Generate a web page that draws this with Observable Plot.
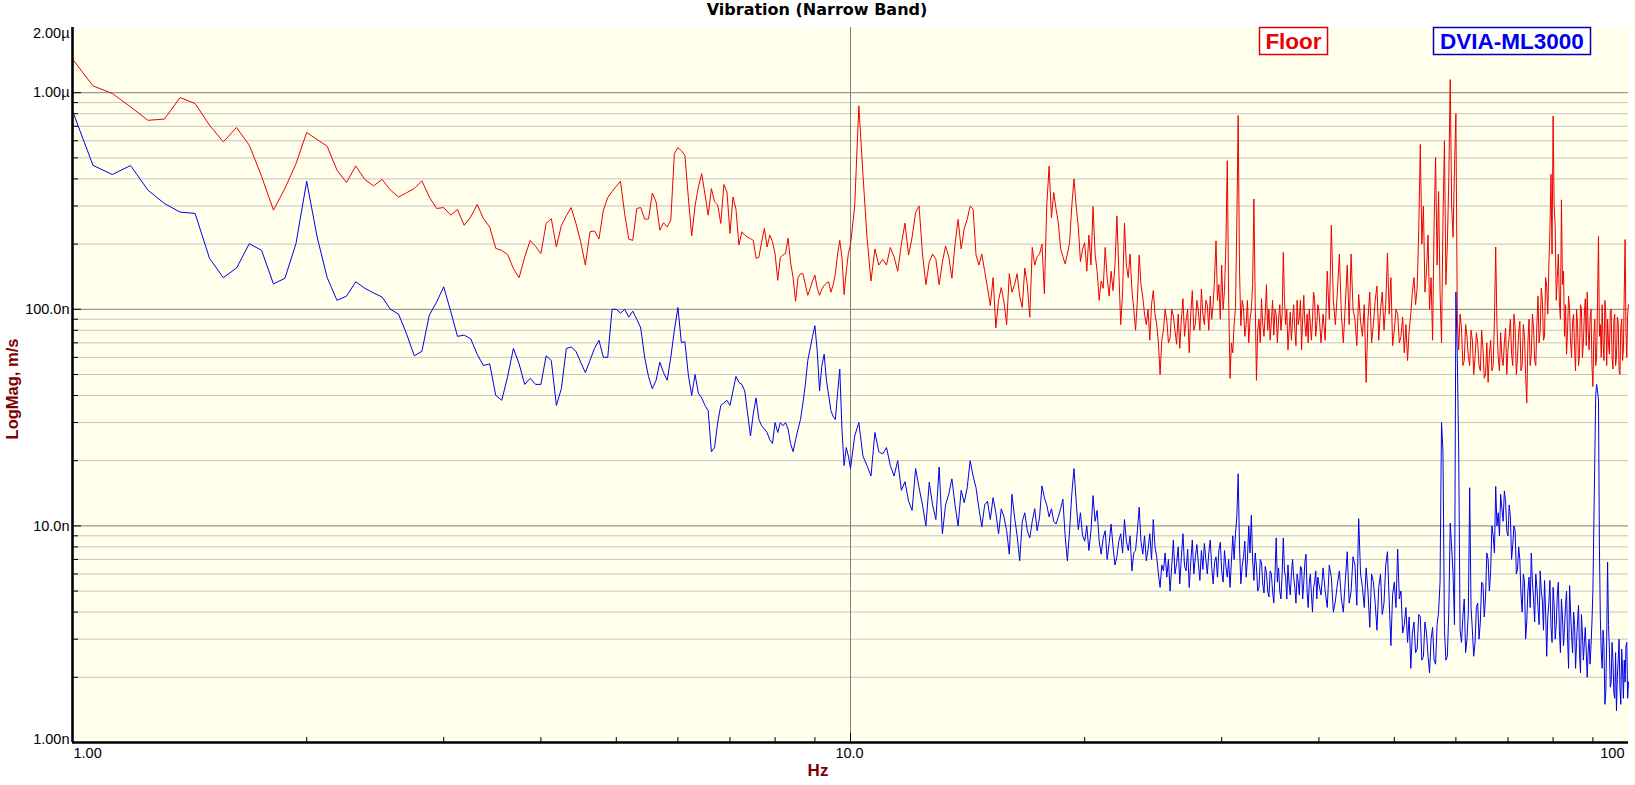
<!DOCTYPE html>
<html>
<head>
<meta charset="utf-8">
<script src="https://cdn.jsdelivr.net/npm/d3@7"></script>
<script src="https://cdn.jsdelivr.net/npm/@observablehq/plot@0.6"></script>
<style>
html, body { margin: 0; padding: 0; background: #ffffff; overflow: hidden; }
svg { display: block; }
</style>
</head>
<body>
<div id="chart"></div>
<script>
// ---------- DATA (frequency in Hz, magnitude in nm/s -> converted to m/s) ----------
const freqLow = [
  1, 1.0625, 1.125, 1.1875, 1.25, 1.3125, 1.375, 1.4375, 1.5, 1.5625, 1.625, 1.6875, 1.75, 1.8125, 1.875, 1.9375,
  2, 2.0625, 2.125, 2.1875, 2.25, 2.3125, 2.375, 2.4375, 2.5, 2.5625, 2.625, 2.6875, 2.75, 2.8125, 2.875, 2.9375,
  3, 3.0625, 3.125, 3.1875, 3.25, 3.3125, 3.375, 3.4375, 3.5, 3.5625, 3.625, 3.6875, 3.75, 3.8125, 3.875, 3.9375,
  4, 4.0625, 4.125, 4.1875, 4.25, 4.3125, 4.375, 4.4375, 4.5, 4.5625, 4.625, 4.6875, 4.75, 4.8125, 4.875, 4.9375,
  5, 5.0625, 5.125, 5.1875, 5.25, 5.3125, 5.375, 5.4375, 5.5, 5.5625, 5.625, 5.6875, 5.75, 5.8125, 5.875, 5.9375,
  6, 6.0625, 6.125, 6.1875, 6.25, 6.3125, 6.375, 6.4375, 6.5, 6.5625, 6.625, 6.6875, 6.75, 6.8125, 6.875, 6.9375,
  7, 7.0625, 7.125, 7.1875, 7.25, 7.3125, 7.375, 7.4375, 7.5, 7.5625, 7.625, 7.6875, 7.75, 7.8125, 7.875, 7.9375,
  8, 8.0625, 8.125, 8.1875, 8.25, 8.3125, 8.375, 8.4375, 8.5, 8.5625, 8.625, 8.6875, 8.75, 8.8125, 8.875, 8.9375,
  9, 9.0625, 9.125, 9.1875, 9.25, 9.3125, 9.375, 9.4375, 9.5, 9.5625, 9.625, 9.6875, 9.75, 9.8125, 9.875, 9.9375,
  10
];
const floorLow = [
  1430, 1075, 992, 860, 746, 755, 950, 891, 708, 593, 691, 572, 411, 287, 361, 470,
  655, 608, 566, 439, 385, 459, 398, 371, 398, 355, 330, 345, 361, 392, 330, 292,
  295, 272, 289, 244, 267, 305, 262, 240, 191, 187, 179, 154, 140, 174, 208, 195,
  181, 249, 262, 194, 244, 270, 295, 249, 205, 160, 228, 230, 211, 287, 328, 350,
  370, 390, 277, 211, 208, 292, 295, 261, 261, 344, 313, 232, 251, 240, 258, 524,
  558, 540, 514, 330, 218, 300, 367, 423, 340, 272, 361, 313, 303, 249, 377, 348,
  224, 330, 290, 198, 228, 220, 215, 212, 208, 172, 174, 205, 236, 194, 220, 205,
  180, 136, 174, 178, 181, 213, 165, 140, 109, 140, 146, 146, 130, 116, 125, 135,
  144, 125, 116, 124, 129, 132, 134, 120, 130, 146, 180, 208, 174, 117, 150, 181,
  199
];
const dviaLow = [
  824, 462, 419, 461, 355, 308, 281, 277, 172, 140, 155, 201, 187, 131, 139, 201,
  390, 216, 140, 110, 115, 134, 125, 119, 114, 100, 95, 77, 61, 64, 94, 108,
  127, 98, 75, 76, 73, 62, 55, 56, 40, 38, 49, 66, 56, 45, 48, 45,
  45, 61, 58, 36, 43, 66, 67, 64, 57, 51, 58, 66, 72, 60, 60, 100,
  100, 96, 100, 92, 98, 90, 82, 60, 49, 43, 47, 57, 51, 47, 60, 80,
  102, 70, 71, 50, 40, 50, 41, 39, 36, 34, 22, 23, 30, 36, 37, 38,
  36, 42, 49, 46, 45, 42, 33, 26, 33, 39, 31, 29, 28, 27, 25, 24,
  30, 27, 30, 29, 30, 28, 24, 22, 25, 28, 31, 37, 45, 58, 66, 75,
  84, 64, 42, 55, 62, 47, 40, 34, 32, 31, 41, 53, 28, 19, 23, 21,
  18.4
];

const freqMid = [
  10.125, 10.25, 10.375, 10.5, 10.625, 10.75, 10.875, 11,
  11.125, 11.25, 11.375, 11.5, 11.625, 11.75, 11.875, 12,
  12.125, 12.25, 12.375, 12.5, 12.625, 12.75, 12.875, 13,
  13.125, 13.25, 13.375, 13.5, 13.625, 13.75, 13.875, 14,
  14.125, 14.25, 14.375, 14.5, 14.625, 14.75, 14.875, 15,
  15.125, 15.25, 15.375, 15.5, 15.625, 15.75, 15.875, 16,
  16.125, 16.25, 16.375, 16.5, 16.625, 16.75, 16.875, 17,
  17.125, 17.25, 17.375, 17.5, 17.625, 17.75, 17.875, 18,
  18.125, 18.25, 18.375, 18.5, 18.625, 18.75, 18.875, 19,
  19.125, 19.25, 19.375, 19.5, 19.625, 19.75, 19.875, 20
];
const floorMid = [
  300, 870, 420, 215, 135, 190, 160, 170,
  160, 193, 175, 150, 200, 250, 178, 215,
  280, 300, 180, 130, 165, 180, 170, 130,
  165, 196, 175, 139, 200, 260, 190, 235,
  260, 300, 290, 178, 160, 180, 150, 126,
  104, 140, 82, 110, 126, 108, 85, 146,
  120, 130, 146, 115, 102, 155, 130, 92,
  193, 160, 175, 180, 200, 118, 300, 458,
  265, 346, 290, 250, 190, 175, 162, 180,
  203, 300, 400, 300, 240, 166, 190, 203
];
const dviaMid = [
  26, 30, 21, 19, 17, 27, 22, 21.5,
  23, 19, 17, 20, 14.6, 16, 13, 11.8,
  18.4, 15, 12.5, 10, 15.9, 12.5, 10.7, 18.7,
  9.2, 12.5, 14, 16.5, 12.5, 10, 14.6, 12.8,
  15, 20, 17, 15, 12, 9.9, 12.5, 13,
  10.7, 13.5, 11.5, 9.2, 12, 11, 9.5, 7.4,
  14, 11, 9, 6.9, 10.5, 11.5, 9.5, 8.8,
  10.5, 12, 9.5, 11, 15.3, 13.5, 12.5, 11,
  12, 10.5, 10.2, 11, 12, 13.3, 9, 6.9,
  9.5, 14, 18.4, 13, 9.6, 11.5, 9, 8.5
];

const freqHigh = [
  20.125, 20.25, 20.375, 20.5, 20.625, 20.75, 20.875, 21,
  21.125, 21.25, 21.375, 21.5, 21.625, 21.75, 21.875, 22,
  22.125, 22.25, 22.375, 22.5, 22.625, 22.75, 22.875, 23,
  23.125, 23.25, 23.375, 23.5, 23.625, 23.75, 23.875, 24,
  24.125, 24.25, 24.375, 24.5, 24.625, 24.75, 24.875, 25,
  25.125, 25.25, 25.375, 25.5, 25.625, 25.75, 25.875, 26,
  26.125, 26.25, 26.375, 26.5, 26.625, 26.75, 26.875, 27,
  27.125, 27.25, 27.375, 27.5, 27.625, 27.75, 27.875, 28,
  28.125, 28.25, 28.375, 28.5, 28.625, 28.75, 28.875, 29,
  29.125, 29.25, 29.375, 29.5, 29.625, 29.75, 29.875, 30,
  30.125, 30.25, 30.375, 30.5, 30.625, 30.75, 30.875, 31,
  31.125, 31.25, 31.375, 31.5, 31.625, 31.75, 31.875, 32,
  32.125, 32.25, 32.375, 32.5, 32.625, 32.75, 32.875, 33,
  33.125, 33.25, 33.375, 33.5, 33.625, 33.75, 33.875, 34,
  34.125, 34.25, 34.375, 34.5, 34.625, 34.75, 34.875, 35,
  35.125, 35.25, 35.375, 35.5, 35.625, 35.75, 35.875, 36,
  36.125, 36.25, 36.375, 36.5, 36.625, 36.75, 36.875, 37,
  37.125, 37.25, 37.375, 37.5, 37.625, 37.75, 37.875, 38,
  38.125, 38.25, 38.375, 38.5, 38.625, 38.75, 38.875, 39,
  39.125, 39.25, 39.375, 39.5, 39.625, 39.75, 39.875, 40
];
const floorHigh = [
  150, 220, 160, 298, 180, 150, 110, 135,
  125, 193, 140, 115, 150, 122, 160, 270,
  150, 85, 120, 250, 160, 140, 180, 122,
  100, 80, 110, 178, 130, 114, 95, 85,
  100, 72, 105, 122, 95, 85, 70, 50,
  72, 80, 100, 89, 70, 74, 100, 93,
  80, 69, 95, 66, 90, 112, 75, 89,
  100, 63, 95, 122, 80, 85, 110, 98,
  80, 124, 95, 85, 110, 105, 80, 115,
  90, 105, 140, 207, 110, 130, 90, 160,
  100, 122, 200, 485, 110, 48, 70, 63,
  85, 102, 250, 785, 150, 84, 110, 102,
  75, 85, 110, 70, 90, 100, 130, 323,
  110, 47, 80, 90, 70, 112, 85, 75,
  95, 130, 80, 100, 72, 88, 110, 76,
  100, 95, 70, 90, 105, 80, 95, 183,
  110, 85, 100, 65, 80, 97, 72, 90,
  105, 80, 68, 110, 85, 92, 110, 65,
  90, 116, 85, 75, 95, 70, 100, 85,
  72, 90, 120, 110, 75, 85, 105, 98
];
const dviaHigh = [
  10.0, 7.7, 9.5, 13.8, 10.5, 11.8, 8.5, 7.4,
  8.8, 9.5, 7.0, 8.3, 10.2, 8, 6.6, 7.2,
  8.5, 9.2, 7.5, 10.7, 8.5, 7.7, 9.0, 6.2,
  7.5, 7.7, 9.5, 12.2, 8.5, 7.4, 9.0, 6.9,
  7.8, 9.2, 7.0, 10.7, 8.0, 7.2, 6.0, 5.2,
  6.6, 6.2, 7.5, 5.8, 7.0, 5.0, 6.5, 8.6,
  6.0, 6.7, 8.0, 5.4, 7.2, 9.2, 6.5, 6.2,
  7.8, 5.2, 6.8, 8.6, 6.0, 7.2, 8.2, 6.7,
  5.6, 7.7, 6.3, 8.3, 7.0, 6, 7.5, 8.6,
  6.5, 5.4, 6.8, 7.2, 5.8, 7.7, 8.4, 6.2,
  5.5, 7.7, 6.5, 5.8, 7.0, 5.2, 6.8, 9,
  7.0, 9.2, 11.0, 17.4, 8.0, 5.4, 6.5, 7.2,
  8.5, 5.8, 7.0, 10, 7.5, 11.2, 7.0, 5.6,
  7.5, 6.5, 5.0, 5.2, 7.0, 6.8, 5.4, 4.9,
  6.5, 6.1, 5.0, 4.7, 6.2, 6.0, 5.0, 4.4,
  6.0, 8.8, 5.5, 6.4, 5.0, 4.6, 6.0, 8.8,
  6.2, 5.8, 4.6, 6.6, 5.4, 4.8, 6.0, 7.0,
  5.8, 5.2, 4.4, 6.0, 5.5, 4.8, 6.5, 6.4,
  4.6, 5.5, 6.8, 7.4, 5.0, 4.2, 5.4, 6.0,
  4.8, 4.0, 5.2, 5.5, 6.2, 4.6, 5.8, 5.4
];

const freqTop = [
  40.25, 40.5, 40.75, 41, 41.25, 41.5, 41.75, 42,
  42.25, 42.5, 42.75, 43, 43.25, 43.5, 43.75, 44,
  44.25, 44.5, 44.75, 45, 45.25, 45.5, 45.75, 46,
  46.25, 46.5, 46.75, 47, 47.25, 47.5, 47.75, 48,
  48.25, 48.5, 48.75, 49, 49.25, 49.5, 49.75, 50,
  50.25, 50.5, 50.75, 51, 51.25, 51.5, 51.75, 52,
  52.25, 52.5, 52.75, 53, 53.25, 53.5, 53.75, 54,
  54.25, 54.5, 54.75, 55, 55.25, 55.5, 55.75, 56,
  56.25, 56.5, 56.75, 57, 57.25, 57.5, 57.75, 58,
  58.25, 58.5, 58.75, 59, 59.25, 59.5, 59.75, 60,
  60.25, 60.5, 60.75, 61, 61.25, 61.5, 61.75, 62,
  62.25, 62.5, 62.75, 63, 63.25, 63.5, 63.75, 64,
  64.25, 64.5, 64.75, 65, 65.25, 65.5, 65.75, 66,
  66.25, 66.5, 66.75, 67, 67.25, 67.5, 67.75, 68,
  68.25, 68.5, 68.75, 69, 69.25, 69.5, 69.75, 70,
  70.25, 70.5, 70.75, 71, 71.25, 71.5, 71.75, 72,
  72.25, 72.5, 72.75, 73, 73.25, 73.5, 73.75, 74,
  74.25, 74.5, 74.75, 75, 75.25, 75.5, 75.75, 76,
  76.25, 76.5, 76.75, 77, 77.25, 77.5, 77.75, 78,
  78.25, 78.5, 78.75, 79, 79.25, 79.5, 79.75, 80,
  80.25, 80.5, 80.75, 81, 81.25, 81.5, 81.75, 82,
  82.25, 82.5, 82.75, 83, 83.25, 83.5, 83.75, 84,
  84.25, 84.5, 84.75, 85, 85.25, 85.5, 85.75, 86,
  86.25, 86.5, 86.75, 87, 87.25, 87.5, 87.75, 88,
  88.25, 88.5, 88.75, 89, 89.25, 89.5, 89.75, 90,
  90.25, 90.5, 90.75, 91, 91.25, 91.5, 91.75, 92,
  92.25, 92.5, 92.75, 93, 93.25, 93.5, 93.75, 94,
  94.25, 94.5, 94.75, 95, 95.25, 95.5, 95.75, 96,
  96.25, 96.5, 96.75, 97, 97.25, 97.5, 97.75, 98,
  98.25, 98.5, 98.75, 99, 99.25, 99.5, 99.75, 100
];
const floorTop = [
  70, 95, 72, 150, 90, 245, 110, 85,
  120, 180, 95, 70, 105, 160, 85, 180,
  100, 90, 68, 117, 88, 75, 105, 46,
  90, 120, 70, 85, 110, 128, 72, 100,
  120, 80, 105, 182, 95, 140, 68, 80,
  100, 95, 70, 75, 92, 63, 85, 58,
  80, 95, 120, 140, 105, 125, 230, 577,
  200, 300, 120, 150, 220, 100, 140, 72,
  250, 503, 160, 350, 120, 70, 260, 600,
  130, 200, 400, 1150, 300, 215, 450, 800,
  90, 65, 95, 82, 55, 58, 85, 75,
  60, 55, 80, 72, 50, 60, 78, 70,
  55, 52, 80, 66, 48, 50, 70, 46,
  62, 72, 52, 55, 90, 194, 85, 60,
  52, 78, 60, 55, 70, 82, 50, 65,
  75, 90, 62, 55, 95, 82, 50, 60,
  78, 88, 52, 55, 85, 75, 50, 37,
  70, 90, 55, 62, 95, 82, 58, 55,
  85, 115, 70, 80, 125, 110, 72, 75,
  140, 128, 95, 160, 230, 420, 180, 780,
  300, 240, 110, 140, 180, 107, 90, 320,
  130, 150, 75, 105, 62, 80, 115, 100,
  70, 60, 88, 95, 65, 52, 100, 85,
  55, 62, 105, 100, 60, 70, 95, 112,
  68, 120, 80, 65, 90, 100, 55, 44,
  75, 90, 55, 60, 110, 217, 75, 85,
  60, 105, 70, 58, 110, 95, 55, 90,
  70, 62, 98, 100, 60, 53, 88, 95,
  55, 60, 92, 88, 52, 50, 82, 90,
  58, 65, 120, 210, 80, 60, 95, 105
];
const dviaTop = [
  4.8, 6.4, 5.0, 4.2, 6.6, 5.8, 4.0, 4.5,
  5.4, 6.2, 4.6, 4.0, 5.6, 7.6, 4.4, 5.0,
  7.2, 6.6, 4.3, 10.8, 6.0, 5.2, 4.2, 6.4,
  5.0, 3.4, 6.0, 5.5, 4.4, 3.3, 5.2, 6.0,
  3.9, 4.4, 6.6, 7.6, 4.5, 2.8, 4.8, 5.5,
  4.2, 7.8, 4.6, 5.0, 3.2, 3.5, 4.2, 2.9,
  3.8, 2.2, 3.2, 3.6, 2.6, 2.7, 3.9, 3.8,
  2.4, 2.5, 3.6, 3.2, 2.5, 2.1, 3.0, 3.4,
  2.4, 2.3, 3.5, 4.0, 5.5, 30, 22, 3.3,
  2.4, 2.5, 4.0, 10.3, 8.0, 6.0, 3.5, 120,
  60, 22, 3.3, 2.9, 3.8, 4.6, 2.6, 3.0,
  4.0, 15, 4.2, 3.3, 2.5, 2.9, 4.2, 4.4,
  3.0, 3.6, 5.5, 5.4, 3.8, 4.7, 7.5, 7.0,
  5.0, 6.2, 10.0, 9.0, 7.5, 15.2, 10.0, 11.5,
  9.0, 14.0, 12.0, 10.5, 14.5, 13.0, 9.5, 9.0,
  12.5, 11.0, 7.0, 8.2, 10.0, 9.5, 6.0, 6.3,
  8.0, 7.0, 4.8, 4.0, 6.0, 5.5, 3.0, 3.6,
  5.0, 5.8, 4.2, 7.5, 5.5, 4.6, 3.6, 6.0,
  5.2, 4.2, 3.5, 6.2, 5.0, 4.5, 3.3, 5.6,
  4.0, 2.5, 3.8, 4.4, 5.6, 3.4, 2.9, 5.2,
  4.3, 3.0, 3.5, 4.8, 5.5, 3.3, 2.6, 4.6,
  3.8, 2.8, 3.4, 4.3, 5.0, 3.0, 2.2, 5.3,
  4.0, 3.1, 2.6, 4.0, 3.5, 2.2, 2.9, 3.6,
  4.3, 2.6, 2.1, 3.9, 3.2, 2.4, 2.9, 3.4,
  2.6, 2.0, 2.7, 3.0, 2.3, 2.8, 3.6, 5.0,
  10, 20, 40, 45, 42, 38, 8, 3.8,
  2.6, 2.2, 3.3, 2.8, 1.5, 1.7, 3.0, 6.8,
  3.5, 2.7, 1.8, 1.9, 2.9, 2.4, 1.7, 1.6,
  2.6, 1.4, 2.0, 2.4, 3.0, 1.8, 1.5, 2.7,
  2.2, 1.6, 2.4, 1.9, 2.8, 2.9, 1.6, 1.9
];

const seriesNames = ["Floor", "DVIA-ML3000"];
const yTickValues = [1e-9, 1e-8, 1e-7, 1e-6, 2e-6];
const yTickLabels = ["1.00n", "10.0n", "100.0n", "1.00\u00b5", "2.00\u00b5"];
const xTickValues = [1, 10, 100];
const xTickLabels = ["1.00", "10.0", "100"];
const mantissas = [2, 3, 4, 5, 6, 7, 8, 9];
const yDecades = [1e-9, 1e-8, 1e-7];
const yMajor = [1e-8, 1e-7, 1e-6];
const xDecades = [1, 10];

// ---------- BUILD ----------
const hz = [...freqLow, ...freqMid, ...freqHigh, ...freqTop];
const floorNm = [...floorLow, ...floorMid, ...floorHigh, ...floorTop];
const dviaNm = [...dviaLow, ...dviaMid, ...dviaHigh, ...dviaTop];
const rows = hz.map((f, i) => ({hz: f, floor: floorNm[i] * 1e-9, dvia: dviaNm[i] * 1e-9}));

const yMinor = yDecades.flatMap(d => mantissas.map(m => m * d));
const xMinor = xDecades.flatMap(d => mantissas.map(m => m * d));
const yLab = yTickValues.map((v, i) => ({v, t: yTickLabels[i]}));
const xLab = xTickValues.map((v, i) => ({v, t: xTickLabels[i]}));

const tickFont = "'Liberation Sans', Arial, sans-serif";
const colFloor = "#ee0000";
const colDvia = "#0000ee";

const chart = Plot.plot({
  width: 1635,
  height: 785,
  marginTop: 27,
  marginLeft: 72,
  marginRight: 7,
  marginBottom: 43,
  x: {type: "log", domain: [1, 100], axis: null, label: null},
  y: {type: "log", domain: [1e-9, 2e-6], axis: null, label: null},
  style: {background: "#ffffff", fontFamily: tickFont, color: "#000000", overflow: "visible"},
  marks: [
    Plot.frame({fill: "#FFFFEB", stroke: "none"}),
    Plot.ruleY(yMinor, {stroke: "#c4c4c4", strokeWidth: 1}),
    Plot.ruleY(yMajor, {stroke: "#808080", strokeWidth: 1}),
    Plot.ruleX([10], {stroke: "#808080", strokeWidth: 1}),
    Plot.line(rows, {x: "hz", y: "floor", stroke: colFloor, strokeWidth: 1}),
    Plot.line(rows, {x: "hz", y: "dvia", stroke: colDvia, strokeWidth: 1}),
    Plot.axisY(yMinor, {anchor: "left", tickSize: 6, dx: 6, fill: "none", label: null, stroke: "#000"}),
    Plot.axisY(yMajor, {anchor: "left", tickSize: 9, dx: 9, fill: "none", label: null, stroke: "#000"}),
    Plot.axisX(xMinor, {anchor: "bottom", tickSize: 5, dy: -5, fill: "none", label: null, stroke: "#000"}),
    Plot.axisX([10], {anchor: "bottom", tickSize: 9, dy: -9, fill: "none", label: null, stroke: "#000"}),
    Plot.ruleX([1], {stroke: "#000", strokeWidth: 2.6}),
    Plot.ruleY([1e-9], {stroke: "#000", strokeWidth: 2.6}),
    Plot.text(yLab.slice(1, 4), {y: "v", text: "t", frameAnchor: "left", textAnchor: "end", dx: -3, fontSize: 14.5, fill: "#000"}),
    Plot.text([yLab[0]], {y: "v", text: "t", frameAnchor: "left", textAnchor: "end", dx: -3, lineAnchor: "bottom", dy: 1, fontSize: 14.5, fill: "#000"}),
    Plot.text([yLab[4]], {y: "v", text: "t", frameAnchor: "left", textAnchor: "end", dx: -3, lineAnchor: "top", fontSize: 14.5, fill: "#000"}),
    Plot.text([xLab[0]], {x: "v", text: "t", frameAnchor: "bottom", textAnchor: "start", lineAnchor: "top", dy: 5, dx: 1, fontSize: 14.5, fill: "#000"}),
    Plot.text([xLab[1]], {x: "v", text: "t", frameAnchor: "bottom", textAnchor: "middle", lineAnchor: "top", dy: 5, dx: -1, fontSize: 14.5, fill: "#000"}),
    Plot.text([xLab[2]], {x: "v", text: "t", frameAnchor: "bottom", textAnchor: "end", lineAnchor: "top", dy: 5, dx: -4, fontSize: 14.5, fill: "#000"})
  ]
});

document.getElementById("chart").appendChild(chart);

// ---------- TITLE, AXIS LABELS, LEGEND ----------
const svg = d3.select(chart);
svg.append("text")
  .attr("x", 817).attr("y", 15)
  .attr("text-anchor", "middle")
  .style("font-family", "'DejaVu Sans', Verdana, sans-serif")
  .style("font-weight", "bold").style("font-size", "16px").attr("fill", "#000")
  .text("Vibration (Narrow Band)");

svg.append("text")
  .attr("x", 818).attr("y", 776)
  .attr("text-anchor", "middle")
  .style("font-family", tickFont)
  .style("font-weight", "bold").style("font-size", "17px").attr("fill", "#800000")
  .text("Hz");

svg.append("text")
  .attr("transform", "translate(18,389) rotate(-90)")
  .attr("text-anchor", "middle")
  .style("font-family", tickFont)
  .style("font-weight", "bold").style("font-size", "16.5px").attr("fill", "#800000")
  .text("LogMag, m/s");

const legendItems = [
  {name: seriesNames[0], x: 1259.5, w: 68, color: "#ee0000", border: "#dd0000"},
  {name: seriesNames[1], x: 1433.5, w: 157, color: "#0000ee", border: "#0000b0"}
];
legendItems.forEach(d => {
  svg.append("rect")
    .attr("x", d.x).attr("y", 27.5).attr("width", d.w).attr("height", 27)
    .attr("fill", "#ffffff").attr("stroke", d.border).attr("stroke-width", 1.5);
  svg.append("text")
    .attr("x", d.x + d.w / 2).attr("y", 49)
    .attr("text-anchor", "middle")
    .style("font-family", tickFont)
    .style("font-weight", "bold").style("font-size", "22.5px").attr("fill", d.color)
    .text(d.name);
});
</script>
</body>
</html>
